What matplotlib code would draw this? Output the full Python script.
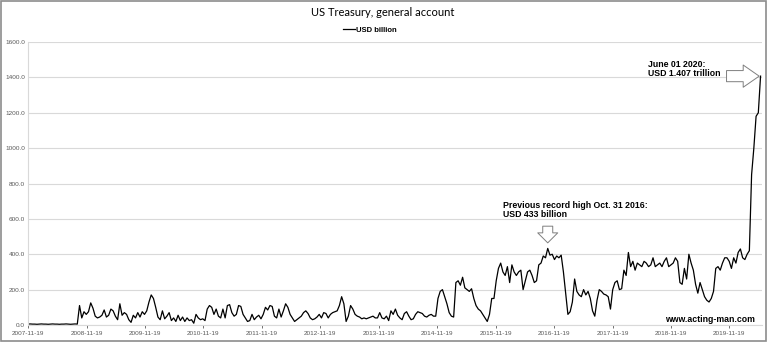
import matplotlib
matplotlib.use("Agg")
import matplotlib.pyplot as plt
import matplotlib.dates as mdates
from matplotlib.patches import Rectangle
import pandas as pd

# biweekly readings (USD billion), one list per year starting 2007-11-19
y2008 = [5, 6, 5, 5, 4, 5, 6, 5, 5, 4, 5, 6, 5, 5, 4, 5, 5, 6, 5, 4, 5, 6, 5, 110, 40, 75]
y2009 = [60, 75, 125, 95, 50, 40, 45, 55, 85, 45, 55, 90, 80, 50, 30, 120, 55, 70, 60, 30, 15, 55, 40, 70, 45, 75]
y2010 = [60, 80, 130, 170, 150, 100, 45, 30, 80, 35, 50, 70, 25, 40, 20, 55, 25, 45, 20, 40, 25, 30, 10, 60, 40, 30]
y2011 = [35, 25, 90, 110, 100, 60, 90, 50, 40, 90, 40, 110, 115, 70, 50, 60, 110, 105, 60, 40, 20, 25, 60, 30, 45, 55]
y2012 = [35, 60, 100, 85, 110, 105, 50, 40, 90, 45, 80, 120, 100, 60, 40, 20, 30, 40, 50, 70, 80, 65, 40, 30, 35, 45]
y2013 = [60, 40, 70, 65, 40, 60, 70, 75, 80, 110, 160, 120, 20, 50, 110, 90, 60, 50, 45, 35, 40, 35, 40, 45, 50, 40]
y2014 = [40, 70, 40, 35, 50, 25, 80, 60, 90, 55, 40, 30, 65, 75, 50, 30, 35, 60, 75, 70, 65, 50, 45, 55, 60, 50]
y2015 = [50, 150, 190, 200, 160, 120, 70, 50, 45, 240, 250, 225, 270, 210, 200, 190, 205, 150, 110, 90, 80, 60, 40, 20, 60, 150]
y2016 = [150, 250, 320, 350, 300, 280, 330, 240, 340, 300, 280, 300, 310, 200, 250, 300, 310, 280, 240, 250, 340, 350, 390, 380, 433, 395]
y2017 = [400, 370, 390, 380, 395, 300, 180, 60, 75, 130, 260, 190, 170, 160, 200, 170, 190, 150, 80, 50, 140, 200, 190, 175, 170, 160]
y2018 = [90, 200, 240, 250, 200, 205, 310, 280, 410, 330, 360, 310, 350, 340, 330, 360, 350, 330, 340, 380, 330, 340, 350, 330, 360, 380]
y2019 = [330, 340, 350, 380, 360, 240, 230, 320, 260, 400, 350, 310, 230, 180, 240, 200, 160, 140, 130, 150, 190, 320, 330, 310, 350, 380]
y2020 = [380, 360, 320, 380, 350, 410, 430, 380, 370, 400, 420, 850, 1000, 1180, 1200, 1407]

values = y2008 + y2009 + y2010 + y2011 + y2012 + y2013 + y2014 + y2015 + y2016 + y2017 + y2018 + y2019 + y2020
dates = pd.date_range(start="2007-11-19", periods=len(values), freq="14D")

tick_dates = pd.to_datetime(["%d-11-19" % y for y in range(2007, 2020)])
y_ticks = [0, 200, 400, 600, 800, 1000, 1200, 1400, 1600]

fig = plt.figure(figsize=(7.68, 3.42), dpi=100)
ax = fig.add_axes([28 / 768, 1 - 325 / 342, 734 / 768, 283 / 342])

ax.plot(dates, values, color="black", lw=0.9, label="USD billion")

ax.set_ylim(0, 1600)
ax.set_xlim(pd.Timestamp("2007-11-19"), pd.Timestamp("2020-06-10"))
ax.set_yticks(y_ticks)
ax.set_yticklabels(["%.1f" % v for v in y_ticks])
ax.set_xticks(tick_dates)
ax.xaxis.set_major_formatter(mdates.DateFormatter("%Y-%m-%d"))
ax.grid(axis="y", color="#d9d9d9", lw=0.8)
ax.set_axisbelow(True)
for s in ["top", "right"]:
    ax.spines[s].set_visible(False)
ax.spines["left"].set_color("#d9d9d9")
ax.spines["bottom"].set_color("#d9d9d9")
ax.tick_params(axis="both", labelsize=4.6, colors="#595959", length=2, width=0.6, pad=2)
ax.tick_params(axis="y", length=0)
for lab in ax.get_xticklabels() + ax.get_yticklabels():
    lab.set_fontfamily("Liberation Sans")

fig.text(383 / 768, 1 - 12 / 342, "US Treasury, general account", ha="center", va="center",
         fontsize=8, family="Lato")
ax.legend(loc="center", bbox_to_anchor=(370 / 768, 1 - 30 / 342), bbox_transform=fig.transFigure,
          frameon=False, handlelength=1.5, handletextpad=0.2,
          prop={"family": "Liberation Sans", "weight": "bold", "size": 5.5})

bold = dict(family="Liberation Sans", weight="bold", fontsize=6.3, color="black")
fig.text(503 / 768, 1 - 210 / 342, "Previous record high Oct. 31 2016:\nUSD 433 billion",
         ha="left", va="center", linespacing=1.1, **bold)
fig.text(648 / 768, 1 - 69 / 342, "June 01 2020:\nUSD 1.407 trillion",
         ha="left", va="center", linespacing=1.1, **bold)
fig.text(755 / 768, 1 - 320 / 342, "www.acting-man.com", ha="right", va="center",
         family="Liberation Sans", weight="bold", fontsize=6.3)

peak_i = values.index(433)
ax.annotate("", xy=(dates[peak_i], values[peak_i]), xytext=(0, 16), textcoords="offset points",
            arrowprops=dict(arrowstyle="simple,head_length=0.72,head_width=1.44,tail_width=0.72",
                            fc="white", ec="#7f7f7f", lw=0.7, shrinkA=0, shrinkB=4,
                            mutation_scale=10))
ax.annotate("", xy=(dates[-1], values[-1]), xytext=(-24.5, 0), textcoords="offset points",
            arrowprops=dict(arrowstyle="simple,head_length=1.15,head_width=1.6,tail_width=0.8",
                            fc="white", ec="#7f7f7f", lw=0.7, shrinkA=0, shrinkB=1,
                            mutation_scale=10))

fig.patches.append(Rectangle((0.001, 0.002), 0.997, 0.995, transform=fig.transFigure,
                             fill=False, ec="#8c8c8c", lw=1.2))

fig.savefig("out.png", dpi=100)
